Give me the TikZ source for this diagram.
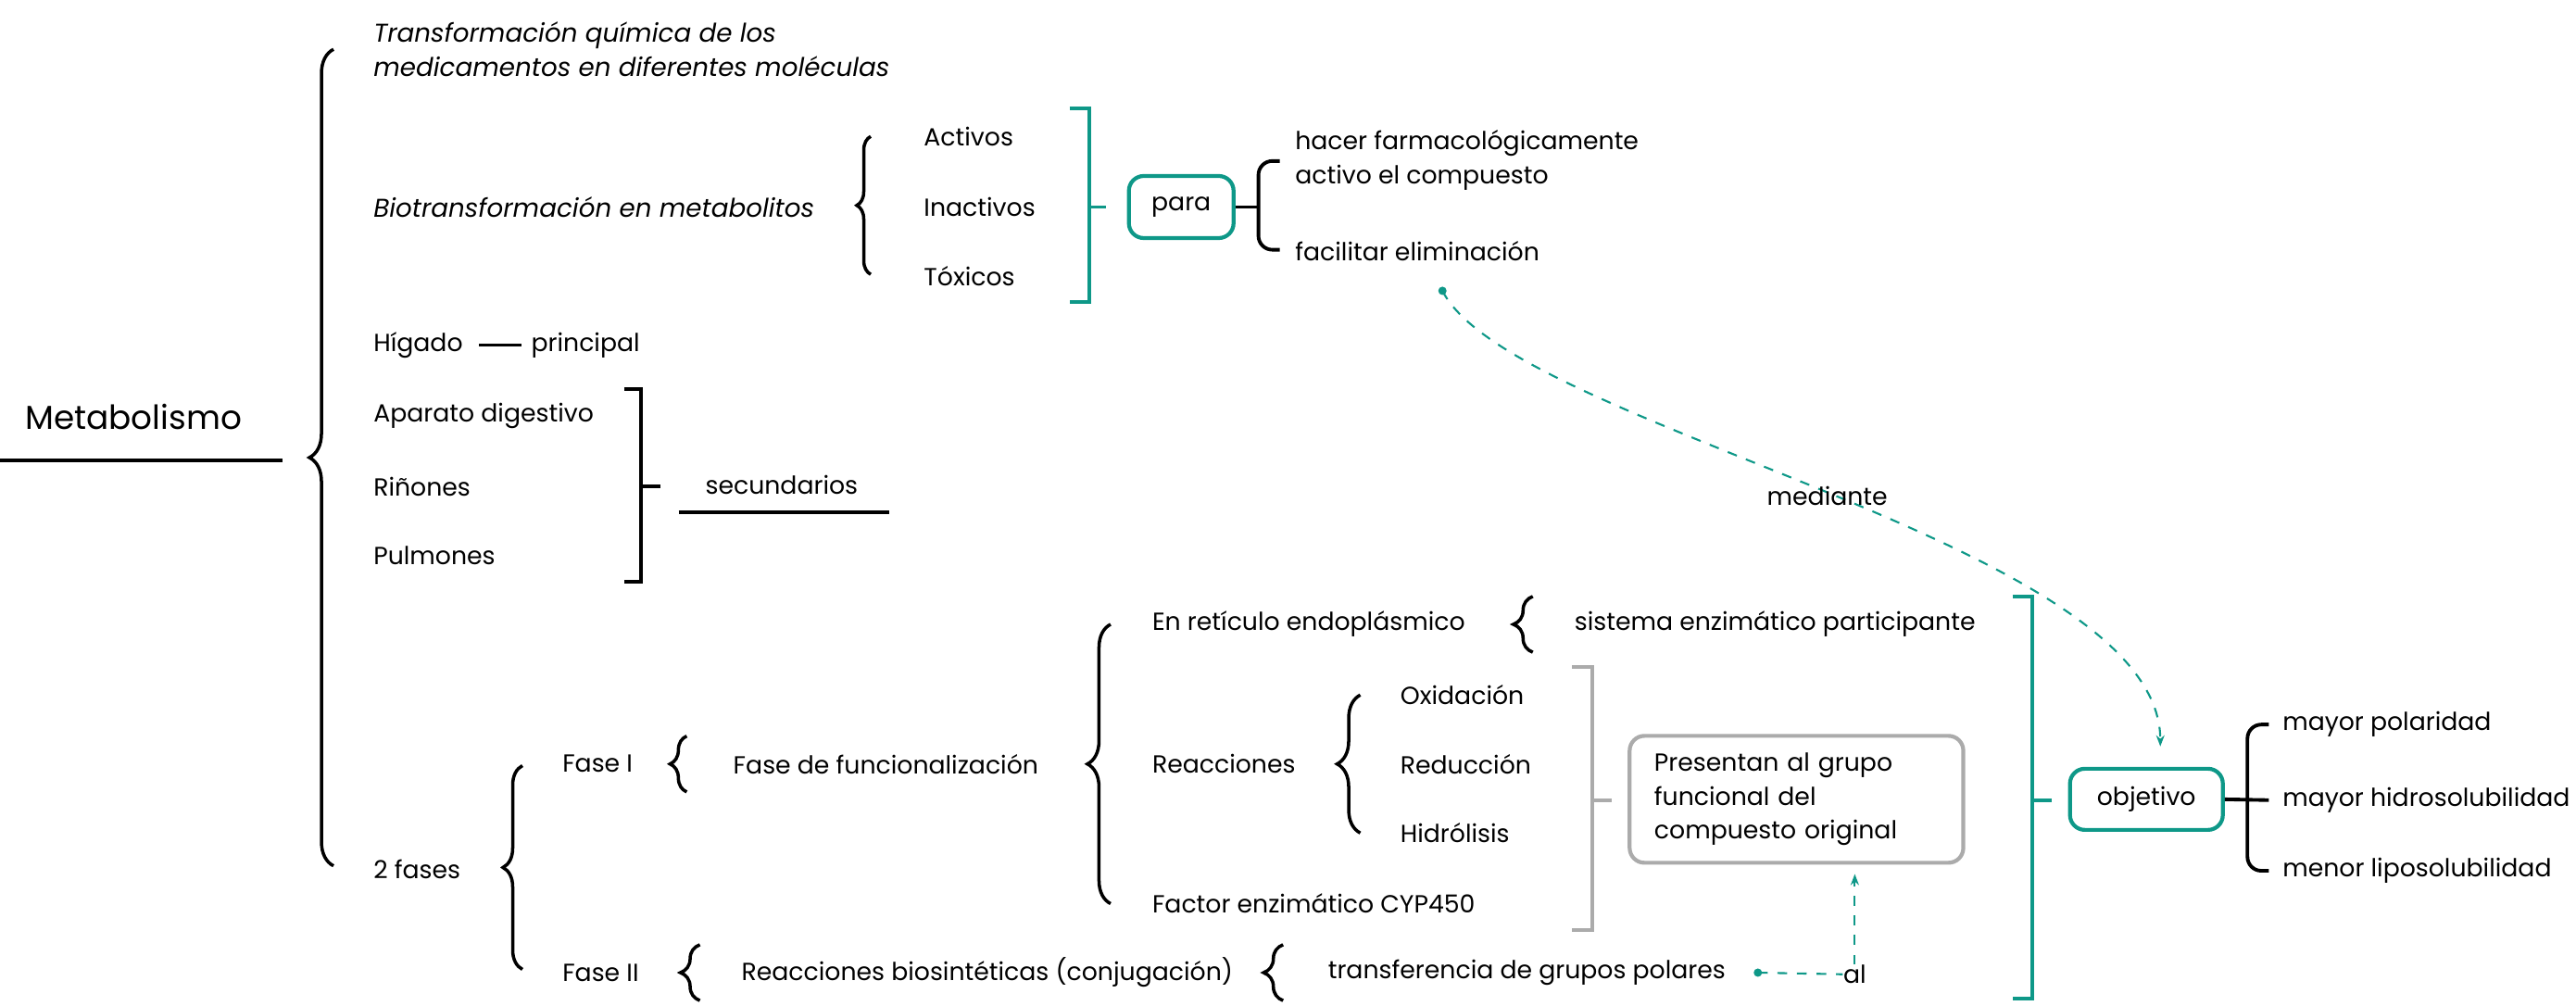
\documentclass[tikz,border=0pt]{standalone}
\usepackage{fontspec}
\setmainfont{Poppins}
\usetikzlibrary{decorations.pathreplacing,arrows.meta}
\definecolor{verde}{HTML}{0E9888}
\definecolor{gris}{HTML}{ABABAB}
\tikzset{
  txt/.style={anchor=west, inner sep=0pt, text=black, font=\fontsize{7.6}{10.4}\selectfont},
  ital/.style={txt, font=\fontsize{7.9}{10.4}\selectfont\itshape, align=left},
  llave/.style={decorate, decoration={brace, amplitude=#1}, line width=1pt},
  corchete/.style={line width=1.1pt},
  caja/.style={draw=verde, line width=1.2pt, rounded corners=1.6mm, inner sep=0pt, font=\fontsize{7.6}{10.4}\selectfont},
  enlace/.style={verde, dashed, line width=0.6pt},
}
\begin{document}
\begin{tikzpicture}[x=0.17736mm, y=-0.17736mm]
\useasboundingbox (0,0) rectangle (1568,612);
\node[txt, font=\fontsize{10.2}{12}\selectfont] (met) at (15,254) {Metabolismo};
\draw[corchete] (0,280) -- (172,280);
\draw[llave=2.6mm] (203,527) -- (203,30);

\node[ital] (trans) at (227,30) {Transformación química de los\\medicamentos en diferentes moléculas};
\node[ital] (bio) at (227,126) {Biotransformación en metabolitos};
\node[txt] (hig) at (227,210) {Hígado};
\node[txt] (prin) at (323,210) {principal};
\draw[corchete] ([xshift=1.7mm]hig.east) -- ([xshift=-1mm]prin.west);
\node[txt] (apa) at (227,253) {Aparato digestivo};
\node[txt] (rin) at (227,296) {Riñones};
\node[txt] (pul) at (227,338) {Pulmones};
\draw[corchete] (380,237) -- (390,237) -- (390,354) -- (380,354);
\draw[corchete] (390,296) -- (402,296);
\node[txt] (sec) at (429,295) {secundarios};
\draw[corchete] (413,312) -- (541,312);
\node[txt] (fases) at (227,529) {2 fases};

\draw[llave=1.5mm] (530,167) -- (530,83);
\node[txt] (act) at (562,83) {Activos};
\node[txt] (ina) at (562,126) {Inactivos};
\node[txt] (tox) at (562,168) {Tóxicos};
\draw[corchete, verde] (651,66) -- (663,66) -- (663,184) -- (651,184);
\draw[corchete, verde] (663,126) -- (673,126);
\node[caja, minimum width=11.3mm, minimum height=6.7mm] (para) at (719,126) {para};
\draw[corchete] (para.east) -- (766,126);
\draw[corchete, rounded corners=1.5mm] (779,98) -- (766,98) -- (766,152) -- (779,152);
\node[txt, align=left] (hacer) at (788,97.5) {hacer farmacológicamente\\activo el compuesto};
\node[txt] (faci) at (788,153) {facilitar eliminación};

\draw[llave=2.1mm] (318,590) -- (318,466);
\node[txt] (f1) at (342,465) {Fase I};
\draw[llave=1.8mm] (418,482) -- (418,448);
\node[txt] (func) at (446,465) {Fase de funcionalización};
\draw[llave=2.5mm] (676,550) -- (676,380);
\node[txt] (ret) at (701,380) {En retículo endoplásmico};
\draw[llave=2.1mm] (933,397) -- (933,363);
\node[txt] (sis) at (958,380) {sistema enzimático participante};
\node[txt] (reac) at (701,465) {Reacciones};
\draw[llave=2.5mm] (828,507) -- (828,423);
\node[txt] (oxi) at (852,423) {Oxidación};
\node[txt] (red) at (852,465) {Reducción};
\node[txt] (hid) at (852,507) {Hidrólisis};
\node[txt] (cyp) at (701,550) {Factor enzimático CYP450};
\draw[corchete, gris] (957,406) -- (969,406) -- (969,566) -- (957,566);
\draw[corchete, gris] (969,487) -- (981,487);
\node[caja, draw=gris, inner xsep=2.66mm, text width=30.7mm, minimum height=13.7mm, align=left] (pres) at (1093.5,486.5) {Presentan al grupo\\funcional del\\compuesto original};

\node[txt] (f2) at (342,592) {Fase II};
\draw[llave=2.1mm] (426,609) -- (426,575);
\node[txt] (biosin) at (451,592) {Reacciones biosintéticas (conjugación)};
\draw[llave=2.1mm] (781,609) -- (781,575);
\node[txt] (trf) at (808,592) {transferencia de grupos polares};
\coordinate (p2) at (1070,592);
\fill[verde] (p2) circle (0.45mm);
\node[txt, anchor=center] (al) at (1129,593) {al};
\draw[enlace] (p2) -- (al.west);
\draw[enlace, -{Stealth[length=1.2mm]}, shorten >=1mm] (al.north) -- (al.north |- pres.south);

\draw[corchete, verde] (1225,363) -- (1237,363) -- (1237,608) -- (1225,608);
\draw[corchete, verde] (1237,487) -- (1249,487);
\node[caja, minimum width=16.5mm, minimum height=6.6mm] (obj) at (1306.5,486.5) {objetivo};
\draw[corchete] (obj.east) -- (1381,487);
\draw[corchete, rounded corners=1.5mm] (1381,441) -- (1368,441) -- (1368,530) -- (1381,530);
\node[txt] (pol) at (1389,441) {mayor polaridad};
\node[txt] (hidro) at (1389,487) {mayor hidrosolubilidad};
\node[txt] (lipo) at (1389,530) {menor liposolubilidad};

\coordinate (p1) at (878,177);
\fill[verde] (p1) circle (0.45mm);
\draw[enlace, -{Stealth[length=1.2mm]}, shorten >=2.2mm] (p1) .. controls (920,260) and (1315,330) .. ([xshift=1.5mm]obj.north) node[pos=0.5, txt, anchor=center] {mediante};
\end{tikzpicture}
\end{document}
